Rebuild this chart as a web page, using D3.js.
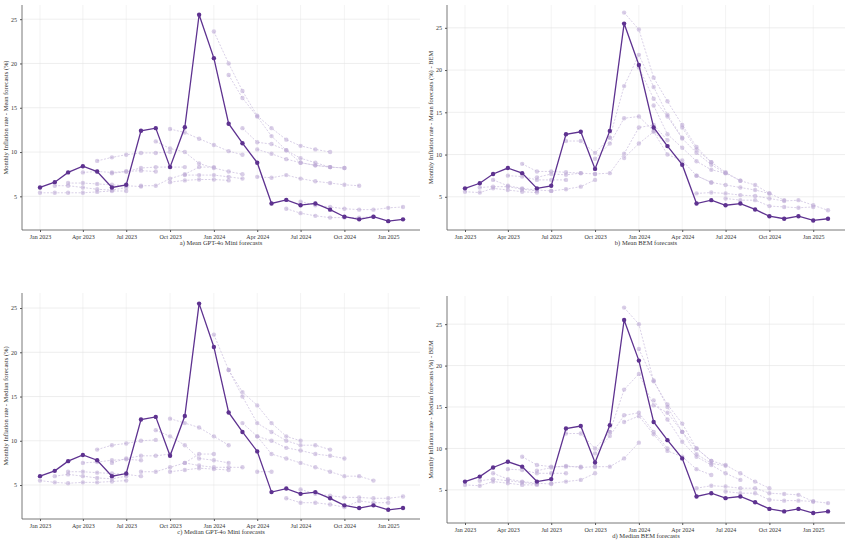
<!DOCTYPE html><html><head><meta charset="utf-8">
<script src="https://cdn.jsdelivr.net/npm/d3@7"></script>
<style>body{margin:0;background:#fff}svg{font-family:"Liberation Serif",serif}</style></head><body>
<svg id="c" width="850" height="546"></svg>
<script>
const months = ["2023-01","2023-02","2023-03","2023-04","2023-05","2023-06","2023-07","2023-08","2023-09","2023-10","2023-11","2023-12","2024-01","2024-02","2024-03","2024-04","2024-05","2024-06","2024-07","2024-08","2024-09","2024-10","2024-11","2024-12","2025-01","2025-02"];
const actual = [6.0,6.6,7.7,8.4,7.8,6.0,6.3,12.4,12.7,8.3,12.8,25.5,20.6,13.2,11.0,8.8,4.2,4.6,4.0,4.2,3.5,2.7,2.4,2.7,2.2,2.4];
const tickLabels = ["Jan 2023","Apr 2023","Jul 2023","Oct 2023","Jan 2024","Apr 2024","Jul 2024","Oct 2024","Jan 2025"];
const yTicks = [5,10,15,20,25];
// forecast vintages: [start month index, values...]
const fcA = [
 [0,5.4,5.4,5.4,5.4,5.5,5.6,5.6],[1,6.2,6.2,6.0,5.8,5.7,6.0],[2,6.5,6.5,6.4,6.3,6.2,6.1],
 [3,7.7,7.8,7.7,7.8,7.9,7.8],[4,9.0,9.4,9.7,9.9,9.9,10.0],[5,7.6,7.8,8.2,8.3,8.3,8.3],
 [7,6.2,6.2,7.0,7.5,8.3,8.3],[8,11.2,10.4,10.0,8.7,8.2,7.8,7.5],[9,12.6,12.2,11.5,10.8,10.1,9.7],
 [9,6.6,6.8,6.9,6.9,6.8],[10,7.4,7.4,7.4,7.2,7.0],[12,23.6,20.0,16.9,14.1,12.7,11.4,10.7,10.3,10.0],
 [13,18.7,16.1,14.0,11.8,10.2,8.8,8.5,8.3,8.2],[14,12.7,11.1,10.9,10.2,9.3,8.8,8.3],
 [15,10.3,9.8,9.2,8.8,8.5,8.3,8.2],[15,7.2,7.1,7.4,7.0,6.7,6.5,6.3,6.2],
 [18,4.4,4.0,3.8,3.6,3.5,3.5,3.7,3.8],[17,3.6,3.1,2.8,2.6,2.6,2.6,2.7]
];
const fcB = [
 [0,5.6,5.5,6.0,5.8,5.6,5.5],[1,6.1,6.2,6.2,5.9,5.7],[2,7.0,6.3,6.0,5.8,5.7],
 [3,7.5,7.4,7.0,7.0,7.0],[4,8.9,8.0,8.0,7.9,7.8],[5,7.3,7.7,7.6,7.8,7.7],
 [6,5.7,5.9,6.2,7.0],[7,11.6,11.6,10.2,12.0],[9,7.7,7.8,10.1,13.2,13.5,11.7],
 [9,9.5,11.3,14.3,14.5,12.8,11.0],[10,12.0,18.1,21.8,18.0,14.7,12.0],
 [11,26.8,24.8,19.1,16.3,13.5,10.9,9.1],[11,9.6,11.3,12.7,10.0,9.3,7.5,6.7],
 [12,20.3,16.6,14.5,11.9,10.2,8.8,7.8],[13,15.8,12.4,10.8,9.2,8.2,7.8,6.9],
 [15,13.2,10.6,9.1,7.9,6.9,6.4,5.4],[16,7.5,6.7,6.4,6.1,5.8,5.4,4.6],
 [16,5.4,5.5,5.4,5.2,5.1,4.8,4.5,4.6,4.0,3.4],[18,4.8,4.6,4.6,3.9,3.8,3.7,3.8]
];
const fcC = [
 [0,5.5,5.3,5.2,5.3,5.3,5.4,5.5],[1,6.0,6.2,6.0,5.8,5.7,6.0],[2,6.5,6.5,6.4,6.3,6.2,6.0],
 [3,7.5,7.6,7.8,7.9,7.8],[4,9.0,9.5,9.7,10.0,10.1],[5,7.5,8.0,8.3,8.3,8.5],
 [7,6.5,6.5,7.0,7.5,8.5,8.5],[8,11.2,10.5,9.5,8.0,7.8,7.5],[9,12.5,12.0,11.5,10.5,9.5],
 [9,6.5,6.7,6.9,6.8,6.7],[10,7.5,7.2,7.0,7.0,7.0],[12,22.0,18.0,15.5,14.0,12.0,10.5,10.0],
 [13,18.0,15.0,12.0,11.0,10.0,9.5,9.5,9.0],[14,12.0,10.5,10.0,9.2,8.9,8.5,8.3,8.0],
 [15,10.5,8.5,8.0,7.5,7.0,6.5,6.0,6.0,5.5],[15,6.5,6.5],
 [18,4.5,4.0,3.8,3.6,3.6,3.5,3.5,3.7],[17,3.5,3.0,3.0,2.8,2.5,3.2,3.0,3.0]
];
const fcD = [
 [0,5.6,5.5,6.0,5.8,5.6,5.6],[1,6.1,6.3,6.1,5.9,5.7],[2,7.0,6.3,6.0,5.8,5.7],
 [3,7.5,7.4,7.0,7.0,7.0],[4,9.0,8.0,7.8,7.8,7.8],[5,7.3,7.7,7.9,7.7,7.8],
 [6,5.8,6.0,6.2,7.0],[7,11.8,11.8,10.0,12.0],[9,7.8,7.8,8.8,10.7],
 [9,9.4,11.5,14.0,14.3,12.0,10.0],[10,12.0,17.1,19.0,15.2,14.3,12.0],
 [11,27.0,25.0,18.1,15.3,13.0,10.0,8.5],[11,13.2,13.9,11.7,9.7,9.0,7.5,6.8],
 [12,22.0,18.2,15.0,12.0,9.3,8.2,7.9],[13,15.8,13.5,10.8,9.0,8.0,7.0,6.2],
 [15,12.0,10.0,8.5,8.0,7.0,6.0,5.2],[16,5.2,5.5,5.4,5.2,5.2,4.6,4.5,4.4,3.6,3.4],
 [18,4.8,4.6,4.6,3.8,3.7,3.7,3.6]
];
const panels = [
 {fc:fcA,x:0,y:0,top:5,bot:230,ymin:1.2,ymax:26.6,ylab:"Monthly Inflation rate - Mean forecasts (%)",cap:"a) Mean GPT-4o Mini forecasts"},
 {fc:fcB,x:425,y:0,top:5,bot:230,ymin:1.07,ymax:27.7,ylab:"Monthly Inflation rate - Mean forecasts (%) - BEM",cap:"b) Mean BEM forecasts"},
 {fc:fcC,x:0,y:280,top:13,bot:239,ymin:1.16,ymax:26.7,ylab:"Monthly Inflation rate - Median forecasts (%)",cap:"c) Median GPT-4o Mini forecasts"},
 {fc:fcD,x:425,y:280,top:16,bot:243,ymin:1.0,ymax:28.4,ylab:"Monthly Inflation rate - Median forecasts (%) - BEM",cap:"d) Median BEM forecasts"}
];
const svg = d3.select("#c");
const parse = d3.timeParse("%Y-%m");
const dates = months.map(parse);
panels.forEach(p=>{
 const g = svg.append("g").attr("transform",`translate(${p.x},${p.y})`);
 const x = d3.scaleTime().domain([parse("2022-11"),parse("2025-04")]).range([22,420]);
 // calibrate: Jan2023 at 40, Feb2025 at 403
 x.domain([dates[0],dates[25]]).range([40,403]);
 const y = d3.scaleLinear().domain([p.ymin,p.ymax]).range([p.bot,p.top]);
 const tickDates = d3.timeMonth.every(3).range(dates[0],parse("2025-02"));
 g.append("g").selectAll("line").data(tickDates).join("line")
  .attr("x1",d=>x(d)).attr("x2",d=>x(d)).attr("y1",p.top).attr("y2",p.bot).attr("stroke","#ebebeb").attr("stroke-width",0.6);
 g.append("g").selectAll("line").data(yTicks).join("line")
  .attr("x1",22).attr("x2",420).attr("y1",d=>y(d)).attr("y2",d=>y(d)).attr("stroke","#e3e3e3").attr("stroke-width",0.6);
 const line = d3.line().x(d=>x(d.d)).y(d=>y(d.v));
 p.fc.forEach(f=>{
  const pts = f.slice(1).map((v,i)=>({d:dates[f[0]+i],v}));
  g.append("path").attr("d",line(pts)).attr("fill","none").attr("stroke","#c9bcdc").attr("stroke-width",0.7).attr("stroke-dasharray","2,1.5");
  g.append("g").selectAll("circle").data(pts).join("circle").attr("cx",d=>x(d.d)).attr("cy",d=>y(d.v)).attr("r",2.2).attr("fill","#b9a6d3").attr("fill-opacity",0.55);
 });
 const ap = actual.map((v,i)=>({d:dates[i],v}));
 g.append("path").attr("d",line(ap)).attr("fill","none").attr("stroke","#5e3290").attr("stroke-width",1.3);
 g.append("g").selectAll("circle").data(ap).join("circle").attr("cx",d=>x(d.d)).attr("cy",d=>y(d.v)).attr("r",2.2).attr("fill","#5e3290");
 const xa = g.append("g").attr("transform",`translate(0,${p.bot})`).call(d3.axisBottom(x).tickValues(tickDates).tickFormat((d,i)=>tickLabels[i]).tickSize(2));
 const ya = g.append("g").attr("transform",`translate(22,0)`).call(d3.axisLeft(y).tickValues(yTicks).tickSize(2));
 [xa,ya].forEach(a=>{a.select(".domain").attr("stroke","#555").attr("stroke-width",0.8);a.selectAll(".tick line").attr("stroke","#555");a.selectAll("text").attr("font-size",6).attr("fill","#333").attr("font-family","Liberation Serif");});
 ya.select(".domain").attr("d",`M-0,${p.top}V${p.bot}`);
 xa.select(".domain").attr("d",`M22,0H420`);
 g.append("text").attr("x",221).attr("y",p.bot+15).attr("text-anchor","middle").attr("font-size",6.5).attr("fill","#333").text(p.cap);
 g.append("text").attr("transform",`translate(8,${(p.top+p.bot)/2}) rotate(-90)`).attr("text-anchor","middle").attr("font-size",6.5).attr("fill","#333").text(p.ylab);
});
</script></body></html>
